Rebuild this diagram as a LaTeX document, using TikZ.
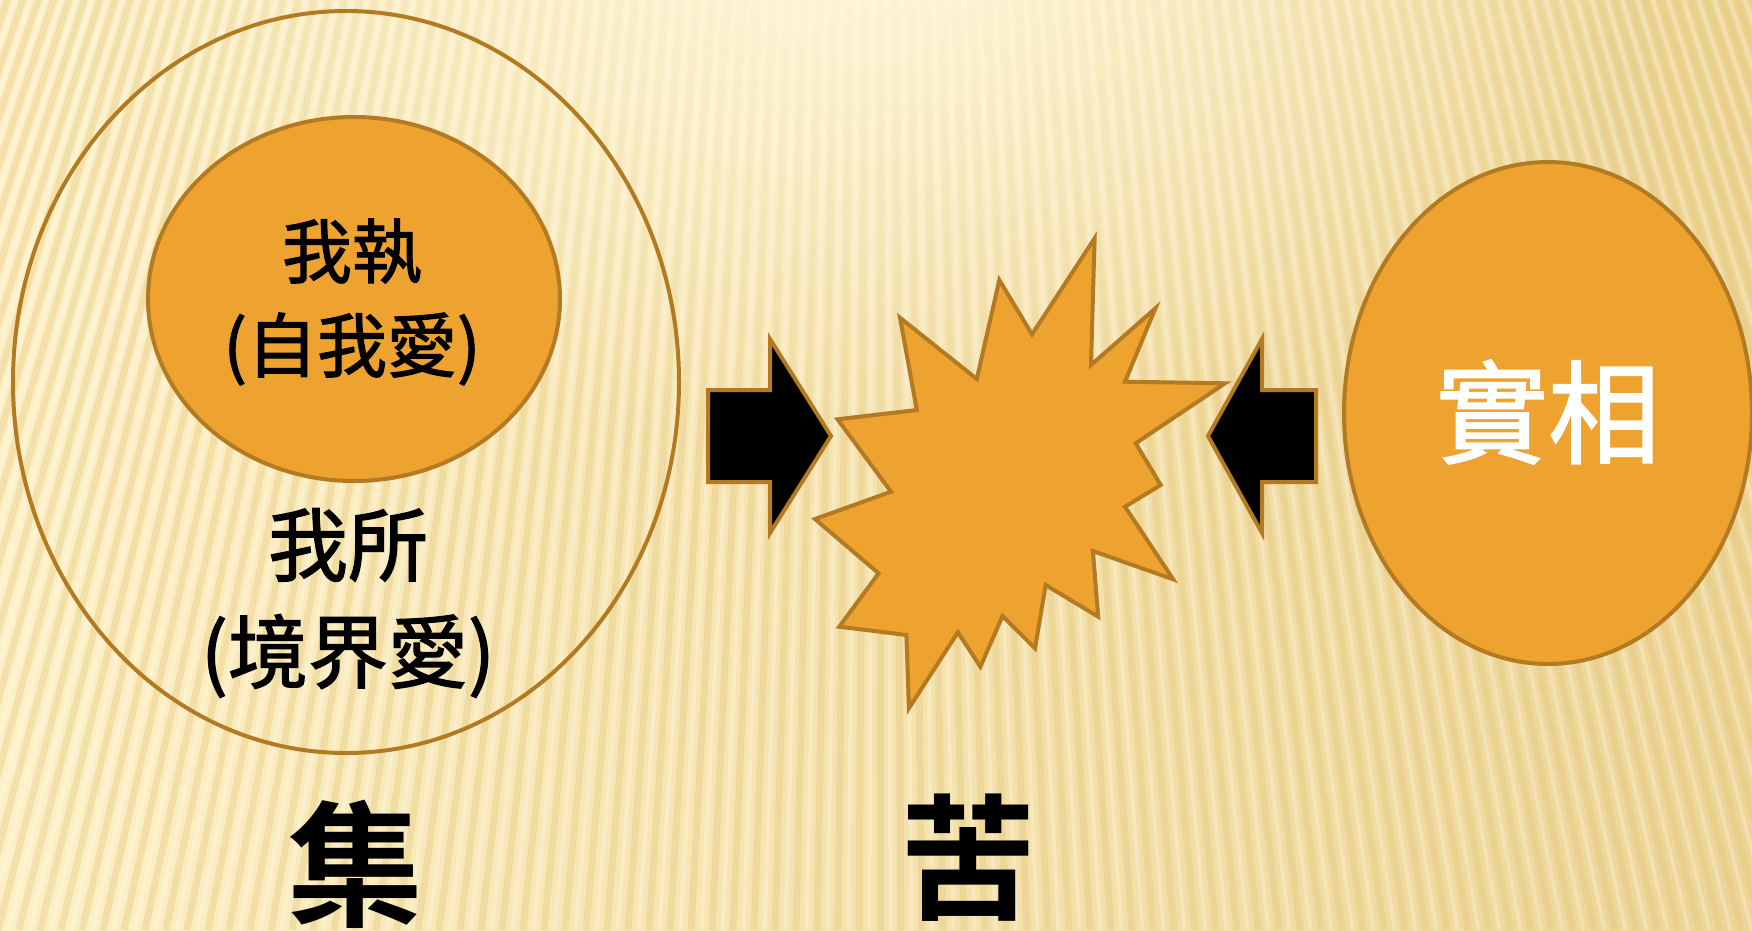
\documentclass[tikz,border=0pt]{standalone}
\usepackage{fontspec}
\newfontfamily\cjk[FakeBold=1.6]{Noto Sans CJK TC}
\newfontfamily\cjkb{Noto Sans CJK TC Bold}
\usetikzlibrary{fadings}
\definecolor{orangefill}{HTML}{EEA22F}
\definecolor{brownline}{HTML}{B37A22}
\definecolor{bgleft}{HTML}{FDF0C5}
\definecolor{bgright}{HTML}{EDD596}
\definecolor{stripedark}{HTML}{E2C57A}
\definecolor{glowcol}{HTML}{FFF8DC}
\tikzfading[name=glowfade, inner color=transparent!0, outer color=transparent!100]
\tikzset{
  shapeline/.style={draw=brownline, line width=4},
  orangeshape/.style={shapeline, fill=orangefill},
  blackarrow/.style={shapeline, fill=black},
  stripe/.style={draw=stripedark, line width=7, opacity=0.35},
  lightstripe/.style={draw=white, line width=4, opacity=0.25},
  cjktext/.style={align=center, inner sep=0},
}
\begin{document}
\begin{tikzpicture}[x=1pt, y=-1pt]
\useasboundingbox (0,0) rectangle (1752,930);
% background
\shade[left color=bgleft, right color=bgright] (0,0) rectangle (1752,930);
\begin{scope}
  \clip (0,0) rectangle (1752,930);
  \foreach \i in {-75,...,75} {
    \draw[stripe] (880,-2500) -- ({880+\i*21},930);
    \draw[lightstripe] (880,-2500) -- ({880+\i*21+10.5},930);
  }
  \fill[glowcol, path fading=glowfade] (860,-60) ellipse [x radius=800, y radius=520];
\end{scope}
% outer ellipse
\draw[shapeline] (346,382) ellipse [x radius=333, y radius=371];
% inner ellipse
\draw[orangeshape] (354,299) ellipse [x radius=206, y radius=182];
% right ellipse
\draw[orangeshape] (1548,413) ellipse [x radius=204, y radius=251];
% arrows
\draw[blackarrow] (708,390) -- (770,390) -- (770,339) -- (831,436) -- (770,533) -- (770,482) -- (708,482) -- cycle;
\draw[blackarrow] (1316,390) -- (1262,390) -- (1262,339) -- (1208,436) -- (1262,533) -- (1262,482) -- (1316,482) -- cycle;
% explosion star
\draw[orangeshape] (1094.6,238.3) -- (1091,365) -- (1155.4,308.3) -- (1125,381.7) -- (1225,383.3)
  -- (1135.7,443.3) -- (1160.7,485) -- (1125,506.7) -- (1173.2,579.3) -- (1092.9,551)
  -- (1098.2,616.7) -- (1045.7,585) -- (1035,648.3) -- (1002.5,616) -- (980.4,666.7)
  -- (957.9,632.3) -- (908.9,708.3) -- (906.4,635) -- (839.3,626.7) -- (878.6,573.3)
  -- (815,519) -- (891,491.7) -- (837.5,419.3) -- (916.8,410) -- (900,317.7)
  -- (976.8,379) -- (999.3,280) -- (1032,334.3) -- cycle;
% texts
\node[cjktext, font=\cjk\fontsize{70}{94}\selectfont] (wozhi) at (352,302) {我執\\(自我愛)};
\node[cjktext, font=\cjk\fontsize{80}{107}\selectfont] (wosuo) at (348,603) {我所\\(境界愛)};
\node[cjktext, text=white, font=\cjk\fontsize{112}{120}\selectfont] (shixiang) at (1548,412) {實相};
\node[cjktext, font=\cjkb\fontsize{136}{140}\selectfont] (ji) at (355,864) {集};
\node[cjktext, font=\cjkb\fontsize{136}{140}\selectfont] (ku) at (968,858) {苦};
\end{tikzpicture}
\end{document}
